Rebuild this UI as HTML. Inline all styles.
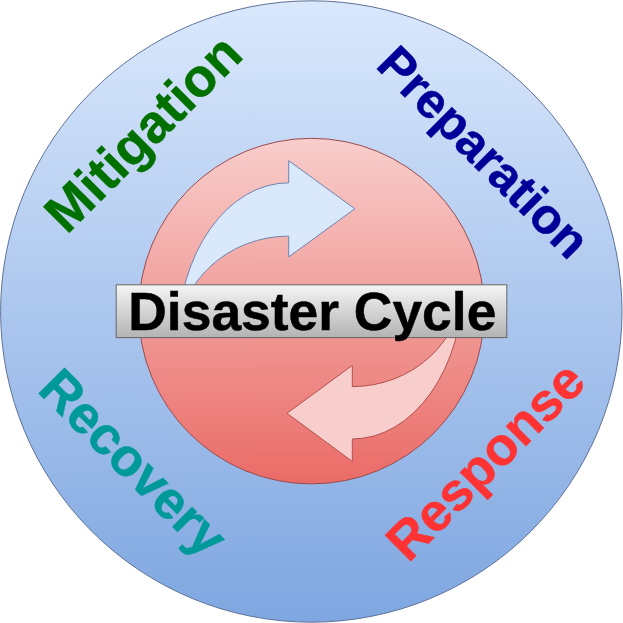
<!DOCTYPE html>
<html>
<head>
<meta charset="utf-8">
<title>Disaster Cycle</title>
<style>
html,body{margin:0;padding:0;background:#ffffff;}
body{width:623px;height:623px;overflow:hidden;font-family:"Liberation Sans",sans-serif;}
svg{display:block;}
text{font-family:"Liberation Sans",sans-serif;font-weight:bold;}
</style>
</head>
<body>
<svg width="623" height="623" viewBox="0 0 623 623">
  <defs>
    <linearGradient id="gOuter" x1="0" y1="0" x2="0" y2="1">
      <stop offset="0" stop-color="#dae8fc"/>
      <stop offset="1" stop-color="#7ea6e0"/>
    </linearGradient>
    <linearGradient id="gInner" x1="0" y1="0" x2="0" y2="1">
      <stop offset="0" stop-color="#f8cecc"/>
      <stop offset="1" stop-color="#ea6b66"/>
    </linearGradient>
    <clipPath id="clipTop"><rect x="0" y="0" width="623" height="300"/></clipPath>
    <clipPath id="clipBot"><rect x="0" y="320" width="623" height="303"/></clipPath>
    <linearGradient id="gBox" x1="0" y1="0" x2="0" y2="1">
      <stop offset="0" stop-color="#f5f5f5"/>
      <stop offset="1" stop-color="#b3b3b3"/>
    </linearGradient>
  </defs>
  <rect width="623" height="623" fill="#ffffff"/>
  <!-- outer circle -->
  <circle cx="311.3" cy="311.5" r="310.7" fill="url(#gOuter)" stroke="#5f7299" stroke-width="1"/>
  <!-- inner circle -->
  <circle cx="311.5" cy="311.1" r="172.8" fill="url(#gInner)" stroke="#9a4a4e" stroke-width="1"/>
  <!-- top arrow -->
  <path d="M288.7 160.6 L354.8 208.8 L288.7 256.9 L288.7 236.1 A111 103.9 0 0 0 177.7 340 A111 157.2 0 0 1 288.7 182.8 Z" fill="#dae8fc" stroke="#6f84b0" stroke-width="1" stroke-linejoin="miter" clip-path="url(#clipTop)"/>
  <!-- bottom arrow -->
  <path d="M352.3 461.4 L287 413.3 L352.3 365.4 L352.3 386.6 A111 104.6 0 0 0 463.3 282 A111 157 0 0 1 352.3 439 Z" fill="#f8cecc" stroke="#b05050" stroke-width="1" stroke-linejoin="miter" clip-path="url(#clipBot)"/>
  <!-- title box -->
  <rect x="116.2" y="284.8" width="390.6" height="52.8" fill="url(#gBox)" stroke="#666666" stroke-width="1"/>
  <text x="128.3" y="329.7" font-size="53.4" fill="#000000" stroke="#000000" stroke-width="0.5">Disaster Cycle</text>
  <!-- labels -->
  <text transform="translate(66.7 235.3) rotate(-45)" font-size="53.4" fill="#007000" stroke="#007000" stroke-width="0.5">Mitigation</text>
  <text transform="translate(374.45 66.85) rotate(45)" font-size="49.5" fill="#000099" stroke="#000099" stroke-width="0.5">Preparation</text>
  <text transform="translate(36.3 390.9) rotate(45)" font-size="53" fill="#009999" stroke="#009999" stroke-width="0.5">Recovery</text>
  <text transform="translate(408.3 563.8) rotate(-45)" font-size="53.2" fill="#ff3333" stroke="#ff3333" stroke-width="0.5">Response</text>
</svg>
</body>
</html>
